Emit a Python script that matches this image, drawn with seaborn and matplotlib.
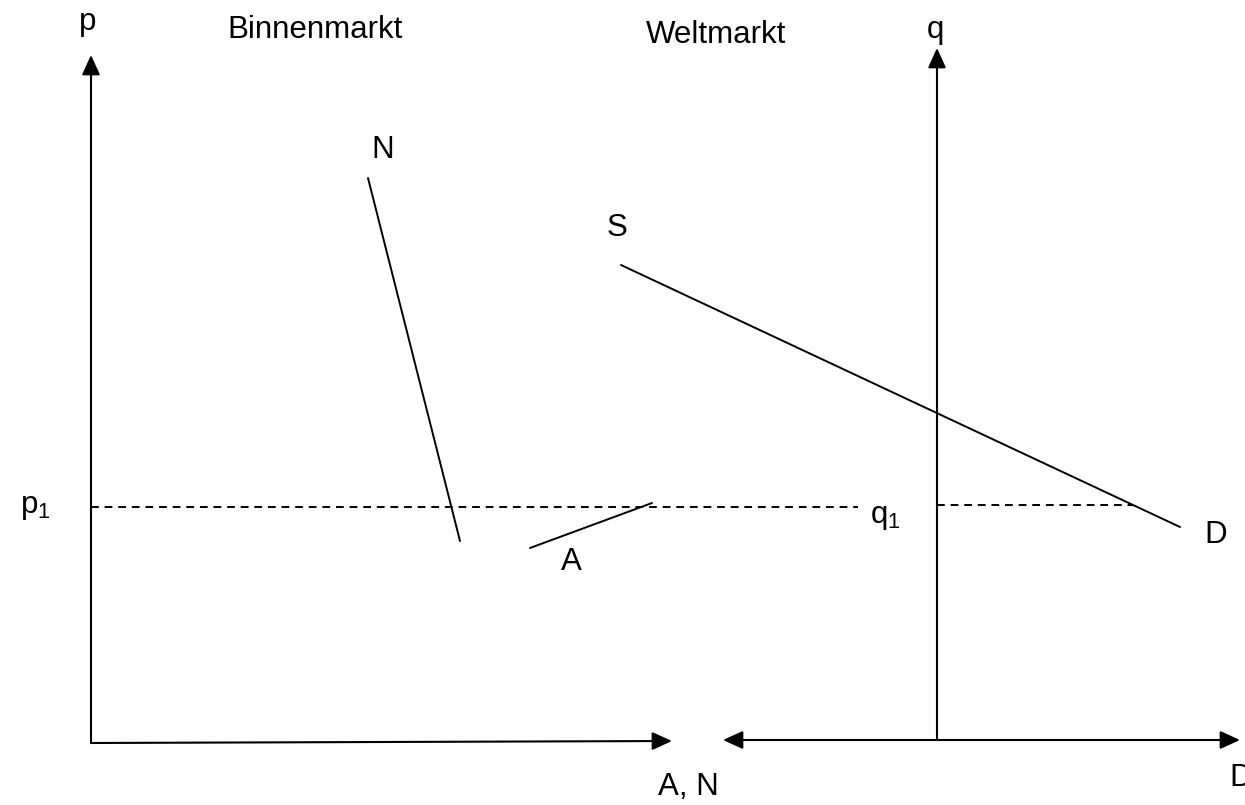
import pandas as pd
import matplotlib.pyplot as plt
import seaborn as sns

# Diagram segments (pixel-like coordinates of the original sketch)
seg_names = ["N", "A", "SD"]
seg_x = [[368, 460], [530, 652], [621, 1180]]
seg_y = [[178, 541], [548, 503], [265, 527]]

# dashed price lines
dash_x = [[91, 858], [937, 1133]]
dash_y = [[507, 507], [505, 505]]

# axes arrows: (start, tip)
arrows = [((91, 743), (91, 55)),
          ((91, 743), (672, 741)),
          ((937, 740), (937, 48)),
          ((937, 740), (1240, 740)),
          ((937, 740), (723, 740))]

labels = ["p", "Binnenmarkt", "Weltmarkt", "q", "N", "S", "A", "D", "A, N", "D"]
label_x = [88, 315, 716, 935, 383, 617, 571, 1216, 688, 1241]
label_y = [22, 30, 35, 30, 150, 228, 562, 535, 787, 778]

sns.set_style("white")
plt.rcParams['font.family'] = ['Liberation Sans', 'DejaVu Sans']
plt.rcParams['mathtext.fontset'] = 'custom'
plt.rcParams['mathtext.rm'] = 'Liberation Sans'
plt.rcParams['mathtext.it'] = 'Liberation Sans'
plt.rcParams['mathtext.default'] = 'rm'

fig = plt.figure(figsize=(12.45, 8.05), dpi=100)
ax = fig.add_axes([0, 0, 1, 1])
ax.set_xlim(0, 1245)
ax.set_ylim(805, 0)
ax.axis("off")

rows = []
for name, xs, ys in zip(seg_names, seg_x, seg_y):
    for x, y in zip(xs, ys):
        rows.append({"seg": name, "x": x, "y": y})
seg_df = pd.DataFrame(rows)
sns.lineplot(data=seg_df, x="x", y="y", units="seg", estimator=None, sort=False,
             color="black", linewidth=1.4, ax=ax, legend=False)

for xs, ys in zip(dash_x, dash_y):
    ax.plot(xs, ys, color="black", linewidth=1.4, dashes=(4, 3))

for start, tip in arrows:
    ax.annotate("", xy=tip, xytext=start,
                arrowprops=dict(arrowstyle="-|>,head_length=0.55,head_width=0.25",
                                color="black", lw=1.5, mutation_scale=22,
                                shrinkA=0, shrinkB=0))

fs = 22.5
for t, x, y in zip(labels, label_x, label_y):
    ax.text(x, y, t, fontsize=fs, ha="center", va="center", color="black")

# subscripted labels
ax.text(35, 507, r"p$_{1}$", fontsize=fs, ha="center", va="center", color="black")
ax.text(885, 517, r"q$_{1}$", fontsize=fs, ha="center", va="center", color="black")

plt.savefig("out.png", dpi=100)
